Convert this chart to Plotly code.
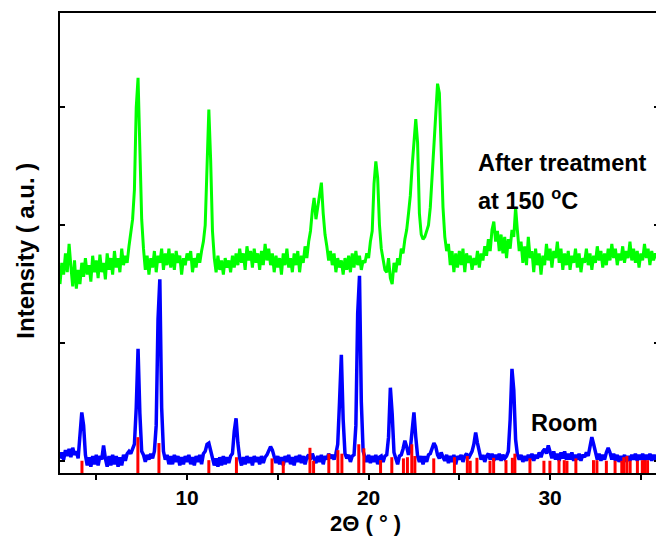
import numpy as np
import plotly.graph_objects as go

# ---------------- data ----------------
# 2-theta grid (instrument step 0.1 deg)
two_theta = np.round(np.arange(3.0, 36.0001, 0.1), 1)

# Room-temperature pattern (blue), arbitrary units (tick spacing = 100)
room = [
    2, 7, 1, 9, 4, 10, 3, 11, 5, 8,
    2, 18, 41, 30, 5, -4, 3, -5, 4, -3,
    5, -4, 4, 1, 13, 2, -5, 4, -4, 5,
    -3, 4, -5, 3, -4, 5, 0, 6, 8, 6,
    10, 14, 45, 95, 40, 8, 5, -1, 5, 1,
    6, 2, 8, 30, 120, 154, 45, 8, 1, 5,
    -3, 4, -3, 5, -1, 4, -4, 3, -3, 4,
    -1, 5, -3, 3, -4, 4, -1, 5, -3, 6,
    8, 14, 15, 9, 2, -4, 2, -5, 3, -4,
    4, -3, 3, -2, 4, 6, 25, 36, 15, 2,
    -4, 3, -3, 4, -2, 3, -4, 4, -1, 3,
    -3, 4, -2, 3, 5, 8, 12, 9, 3, -2,
    4, -3, 3, -4, 4, -1, 5, -3, 3, -4,
    4, -1, 5, -2, 4, -3, 3, 5, 1, 6,
    2, -2, 4, -1, 5, -3, 4, 1, 6, 2,
    5, 1, 6, 14, 50, 90, 35, 6, 2, 5,
    -1, 4, 5, 30, 125, 157, 50, 8, 3, -1,
    5, -2, 4, -1, 5, -3, 3, 4, -1, 4,
    5, 20, 62, 40, 7, 2, -3, 4, 5, 10,
    17, 12, 5, 10, 30, 41, 20, 4, -1, 4,
    -3, 4, -1, 5, 6, 10, 15, 12, 5, 2,
    7, 3, 0, 5, -2, 4, -1, 5, -3, 4,
    1, 5, -1, 4, 6, 2, 5, 8, 14, 24,
    15, 6, 1, 5, -1, 4, 6, 1, 6, 0,
    5, 1, 6, 0, 5, 2, 4, 8, 35, 78,
    60, 18, 5, 1, 5, -1, 4, 0, 5, 1,
    6, 0, 5, 2, 7, 3, 8, 10, 6, 13,
    7, 2, 8, 1, 6, 0, 7, 2, 8, 1,
    6, 1, 7, 0, 5, 1, 6, 0, 5, 3,
    7, 4, 12, 20, 14, 6, 1, 6, 0, 5,
    1, 7, 11, 7, 1, 6, 0, 5, -1, 4,
    0, 5, -1, 4, 0, 5, 1, 6, 0, 5,
    1, 6, 0, 5, 1, 6, 0, 5, 1, 5,
    2,
]

# After treatment at 150 C (green)
treated = [
    150, 168, 158, 176, 160, 184, 165, 148, 170, 146,
    162, 150, 168, 156, 172, 158, 166, 152, 174, 160,
    170, 155, 175, 160, 168, 154, 176, 162, 172, 158,
    178, 164, 172, 160, 180, 166, 174, 168, 182, 196,
    205, 230, 300, 325, 270, 205, 180, 162, 174, 158,
    172, 164, 178, 160, 174, 168, 180, 162, 176, 166,
    180, 164, 176, 162, 178, 168, 174, 158, 172, 166,
    176, 170, 178, 160, 172, 164, 176, 168, 178, 186,
    200, 250, 298, 255, 195, 172, 160, 174, 162, 170,
    158, 172, 164, 170, 160, 174, 164, 176, 166, 180,
    168, 176, 162, 182, 170, 178, 164, 180, 168, 176,
    162, 178, 166, 184, 170, 180, 166, 176, 160, 174,
    164, 172, 158, 176, 166, 180, 164, 172, 160, 176,
    166, 178, 160, 174, 168, 182, 172, 186, 195, 212,
    223, 205, 215, 225, 236, 210, 192, 182, 170, 178,
    166, 176, 160, 172, 164, 170, 158, 172, 162, 174,
    160, 176, 164, 178, 166, 174, 162, 170, 168, 176,
    172, 186, 195, 235, 254, 240, 200, 180, 170, 162,
    160, 172, 155, 150, 168, 160, 172, 166, 180, 176,
    188, 196, 210, 225, 250, 275, 290, 270, 210, 192,
    188, 190, 195, 200, 215, 240, 270, 295, 320, 312,
    265, 215, 190, 178, 184, 166, 178, 160, 176, 164,
    178, 166, 180, 160, 176, 168, 174, 162, 172, 166,
    178, 164, 176, 170, 182, 174, 188, 178, 196, 203,
    186, 195, 178, 192, 176, 190, 172, 188, 180, 196,
    190, 215, 195, 178, 186, 168, 182, 166, 190, 172,
    178, 160, 180, 166, 176, 158, 174, 166, 184, 170,
    180, 164, 178, 172, 186, 168, 180, 162, 176, 166,
    178, 162, 174, 168, 180, 164, 176, 160, 172, 168,
    180, 166, 176, 162, 174, 168, 182, 170, 178, 164,
    176, 166, 180, 170, 184, 172, 180, 166, 176, 170,
    182, 168, 178, 172, 186, 170, 180, 168, 178, 164,
    176, 170, 184, 172, 180, 166, 178, 170, 176, 172,
    178,
]

# Reference pattern sticks (red): positions and top values
ref_pos = [4.21, 7.29, 8.45, 11.2, 12.72, 14.68, 15.3, 16.77, 16.97, 17.81,
           18.31, 18.53, 19.46, 19.74, 20.66, 21.28, 21.92, 22.14, 22.38, 22.55,
           23.59, 24.73, 25.44, 25.6, 25.97, 26.69, 26.89, 27.57, 27.92, 28.06,
           28.89, 29.66, 29.99, 30.49, 30.78, 30.93, 31.42, 32.39, 32.58, 33.1,
           33.58, 33.95, 34.06, 34.23, 34.41, 34.81, 35.08, 35.2, 35.37]
ref_top = [0, 20, 15, 0.5, 3, 2, -0.5, 11, 0, 6,
           9, 6, 14, 10.5, 0.5, 3, 2, 3, 14, 4,
           2, 3, 4, 0, 2.5, 0, 2.5, 0.5, 2.5, 6,
           2, 0, 0, 0.5, 0.5, 0, 2, 0.5, 0.5, 0,
           0, 0, 3, 4, 0, 0, 0.5, 0.5, 0.5]

x_ticks = [10, 20, 30]
x_tick_text = ["10", "20", "30"]
y_ticks = [0, 100, 200, 300]

X_RANGE = [3, 36]
Y_RANGE = [-10.4, 380]

# ---------------- figure ----------------
FONT = "Liberation Sans, Arial, Helvetica, sans-serif"

fig = go.Figure()

fig.add_trace(go.Scatter(x=two_theta, y=treated, mode="lines",
                         line=dict(color="#00FF00", width=3), showlegend=False))
fig.add_trace(go.Scatter(x=two_theta, y=room, mode="lines",
                         line=dict(color="#0000FF", width=3.5), showlegend=False))

stick_x, stick_y = [], []
for p, t in zip(ref_pos, ref_top):
    stick_x += [p, p, None]
    stick_y += [Y_RANGE[0], t, None]
fig.add_trace(go.Scatter(x=stick_x, y=stick_y, mode="lines",
                         line=dict(color="#FF0000", width=3), showlegend=False))

# page body has an 8px margin; figure sized/offset to compensate
fig.update_layout(
    width=656, height=534,
    margin=dict(l=52, r=4, t=3, b=69),
    paper_bgcolor="white", plot_bgcolor="white",
    font=dict(family=FONT, color="black"),
    xaxis=dict(range=X_RANGE, tickvals=x_ticks, ticktext=x_tick_text,
               ticks="outside", ticklen=5, tickwidth=1.5, tickcolor="black",
               minor=dict(dtick=5, tick0=0, ticks="outside", ticklen=5,
                          tickwidth=1.5, tickcolor="black"),
               showline=True, linecolor="black", linewidth=2, mirror=True,
               showgrid=False, zeroline=False,
               tickfont=dict(size=21, family=FONT, weight="bold")),
    yaxis=dict(range=Y_RANGE, tickvals=y_ticks, showticklabels=False,
               ticks="inside", ticklen=5, tickwidth=1.5, tickcolor="black",
               showline=True, linecolor="black", linewidth=2, mirror="ticks",
               showgrid=False, zeroline=False),
    annotations=[
        dict(text="2Θ ( ° )", xref="paper", yref="paper", x=0.51, y=-0.11,
             xanchor="center", yanchor="middle", showarrow=False,
             font=dict(size=22, family=FONT, weight="bold")),
        dict(text="Intensity ( a.u. )", xref="paper", yref="paper", x=-0.057, y=0.483,
             xanchor="center", yanchor="middle", textangle=-90, showarrow=False,
             font=dict(size=24, family=FONT, weight="bold")),
        dict(text="After treatment", xref="x", yref="y", x=25.92, y=253,
             xanchor="left", yanchor="middle", showarrow=False,
             font=dict(size=23.5, family=FONT, weight="bold")),
        dict(text="at 150 <sup>o</sup>C", xref="x", yref="y", x=25.92, y=222,
             xanchor="left", yanchor="middle", showarrow=False,
             font=dict(size=23.5, family=FONT, weight="bold")),
        dict(text="Room", xref="x", yref="y", x=28.85, y=32,
             xanchor="left", yanchor="middle", showarrow=False,
             font=dict(size=23.5, family=FONT, weight="bold")),
    ],
)

fig.write_html("out.html")
